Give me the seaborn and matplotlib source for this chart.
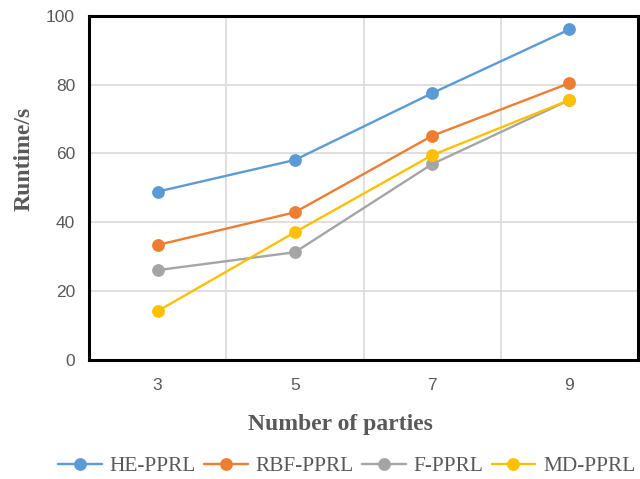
import matplotlib
matplotlib.use("Agg")
import matplotlib.pyplot as plt
import seaborn as sns
import pandas as pd
from matplotlib.ticker import FixedLocator

parties = ["3", "5", "7", "9"]
series_names = ["HE-PPRL", "RBF-PPRL", "F-PPRL", "MD-PPRL"]
he_pprl = [48.9, 58.1, 77.5, 96.0]
rbf_pprl = [33.4, 42.9, 65.1, 80.4]
f_pprl = [26.1, 31.3, 56.9, 75.5]
md_pprl = [14.2, 37.1, 59.5, 75.5]
y_ticks = [0, 20, 40, 60, 80, 100]
colors = ["#5B9BD5", "#ED7D31", "#A5A5A5", "#FFC000"]

rows = []
for name, vals in zip(series_names, [he_pprl, rbf_pprl, f_pprl, md_pprl]):
    for p, v in zip(parties, vals):
        rows.append({"parties": p, "runtime": v, "method": name})
df = pd.DataFrame(rows)

sns.set_theme(style="white")
plt.rcParams["font.family"] = ["Liberation Serif", "DejaVu Serif"]

fig = plt.figure(figsize=(6.4, 4.79), dpi=100)
ax = fig.add_axes([89/640, 1 - 360/479, (638-89)/640, (360-15.7)/479])

sns.lineplot(data=df, x="parties", y="runtime", hue="method",
             hue_order=series_names, palette=colors, marker="o",
             markersize=9.2, markeredgewidth=0, linewidth=1.7, ax=ax,
             sort=False)

ax.set_xlim(-0.5, 3.5)
ax.set_ylim(0, 100)
ax.set_yticks(y_ticks)
ax.set_yticklabels([str(t) for t in y_ticks], family="Liberation Sans",
                   fontsize=12.5, color="#595959")
ax.set_xticks(range(len(parties)))
ax.set_xticklabels(parties, family="Liberation Sans", fontsize=12.5, color="#595959")
ax.xaxis.set_minor_locator(FixedLocator([0.5, 1.5, 2.5]))
ax.tick_params(axis="both", which="both", length=0)
ax.tick_params(axis="y", pad=10)
ax.tick_params(axis="x", pad=13)
ax.grid(True, axis="y", which="major", color="#D9D9D9", linewidth=1.2)
ax.grid(True, axis="x", which="minor", color="#D9D9D9", linewidth=1.2)
ax.grid(False, axis="x", which="major")
ax.set_axisbelow(True)
for s in ax.spines.values():
    s.set_visible(True)
    s.set_color("black")
    s.set_linewidth(2.2)

ax.set_xlabel("")
ax.set_ylabel("")
fig.text(24/640, 1 - 158.5/479, "Runtime/s", rotation=90, ha="center", va="center",
         fontsize=17, fontweight="bold", color="#595959")
fig.text(340/640, 1 - 430/479, "Number of parties", ha="center", va="baseline",
         fontsize=17, fontweight="bold", color="#595959")

handles, labels = ax.get_legend_handles_labels()
ax.get_legend().remove()
leg = fig.legend(handles, labels, loc="center left",
                 bbox_to_anchor=(58/640, 1 - 466/479), ncol=4, frameon=False,
                 fontsize=15.4, handlelength=2.05, handletextpad=0.37,
                 columnspacing=0.37, borderpad=0, borderaxespad=0)
for t in leg.get_texts():
    t.set_color("#595959")

fig.savefig("out.png", dpi=100)
